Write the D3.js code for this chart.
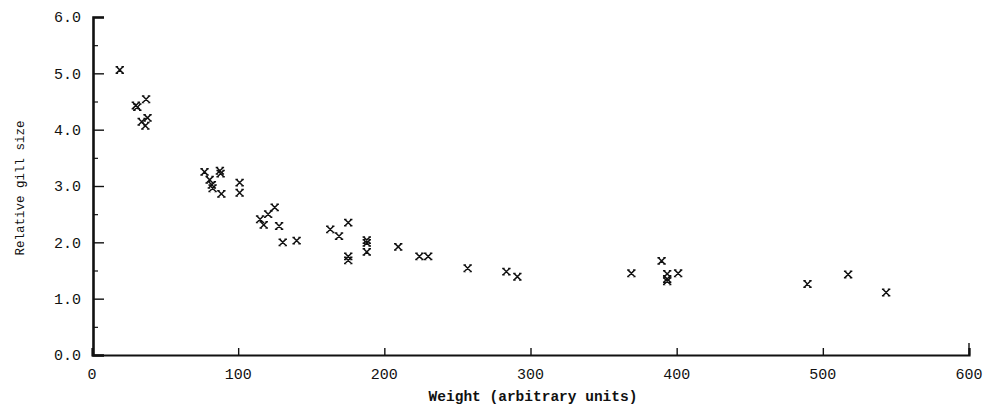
<!DOCTYPE html>
<html><head><meta charset="utf-8">
<script src="https://cdn.jsdelivr.net/npm/d3@7"></script>
<style>body{margin:0;background:#fff}svg{display:block}</style>
</head><body><svg id="c" width="991" height="411"></svg>
<script>
const weights = [19,30,31,37,38,34,36.5,77,87.5,88,80.5,82,82.5,88.5,101,101,125,120.5,115,117.5,128,130.5,140,163,169,175.3,175.3,175.3,188,188,188,209.5,224,230,257,283.5,291,369,389.7,393.5,393.5,393.5,401,489.5,517.3,543.3];
const gillSize = [5.06,4.43,4.40,4.54,4.21,4.14,4.07,3.25,3.27,3.22,3.11,3.02,2.96,2.86,3.06,2.88,2.62,2.50,2.41,2.31,2.29,2.00,2.03,2.23,2.11,2.35,1.75,1.68,2.04,1.99,1.83,1.92,1.75,1.75,1.54,1.48,1.39,1.45,1.67,1.44,1.35,1.31,1.45,1.26,1.43,1.11];
const xTicks = [0,100,200,300,400,500,600];
const yTicks = [0,1,2,3,4,5,6];
const yMinor = [0.5,1.5,2.5,3.5,4.5,5.5];
const xTitle = "Weight (arbitrary units)";
const yTitle = "Relative gill size";

const svg = d3.select("#c");
const x = d3.scaleLinear().domain([0,600]).range([92,969]);
const y = d3.scaleLinear().domain([0,6]).range([355,17]);
const ink = "#111";
const font = "'Liberation Mono', 'DejaVu Sans Mono', monospace";

// y axis
const ya = svg.append("g").attr("transform","translate(93,0)")
  .call(d3.axisRight(y).tickValues(yTicks).tickSize(11).tickFormat(""));
ya.select(".domain").attr("stroke",ink).attr("stroke-width",2.6);
ya.selectAll(".tick line").attr("stroke",ink).attr("stroke-width",1.4);
const ym = svg.append("g").attr("transform","translate(93,0)")
  .call(d3.axisRight(y).tickValues(yMinor).tickSize(5).tickFormat(""));
ym.select(".domain").remove();
ym.selectAll(".tick line").attr("stroke",ink).attr("stroke-width",1.2);
svg.append("g").selectAll("text").data(yTicks).join("text")
  .attr("x",81).attr("y",d=>y(d)).attr("dy","0.36em")
  .attr("text-anchor","end").attr("font-family",font).attr("font-size",15)
  .attr("fill",ink).text(d=>d.toFixed(1));

// x axis
const xa = svg.append("g").attr("transform","translate(0,355)")
  .call(d3.axisTop(x).tickValues(xTicks.slice(1)).tickSize(7).tickFormat(""));
xa.select(".domain").attr("stroke",ink).attr("stroke-width",2.2);
xa.selectAll(".tick line").attr("stroke",ink).attr("stroke-width",1.4);
svg.append("line").attr("x1",x(600)).attr("x2",x(600)).attr("y1",355).attr("y2",343)
  .attr("stroke",ink).attr("stroke-width",1.4);
svg.append("g").selectAll("text").data(xTicks).join("text")
  .attr("x",d=>x(d)).attr("y",379)
  .attr("text-anchor","middle").attr("font-family",font).attr("font-size",15)
  .attr("fill",ink).text(d=>d);

// titles
svg.append("text").attr("x",533).attr("y",401).attr("text-anchor","middle")
  .attr("font-family",font).attr("font-size",14.5).attr("font-weight","bold")
  .attr("fill",ink).text(xTitle);
svg.append("text").attr("transform","translate(24,188) rotate(-90)")
  .attr("text-anchor","middle").attr("font-family",font).attr("font-size",12.5)
  .attr("fill",ink).text(yTitle);

// markers
const data = weights.map((w,i)=>({w, g:gillSize[i]}));
const s = 3.2;
svg.append("g").selectAll("path").data(data).join("path")
  .attr("transform",d=>`translate(${x(d.w)},${y(d.g)})`)
  .attr("d",`M${-s},${-s}L${s},${s}M${-s},${s}L${s},${-s}M${-s-1},${-s}H${-s+1.5}M${s-1.5},${-s}H${s+1}M${-s-1},${s}H${-s+1.5}M${s-1.5},${s}H${s+1}`)
  .attr("stroke",ink).attr("stroke-width",1.5).attr("fill","none");
</script></body></html>
